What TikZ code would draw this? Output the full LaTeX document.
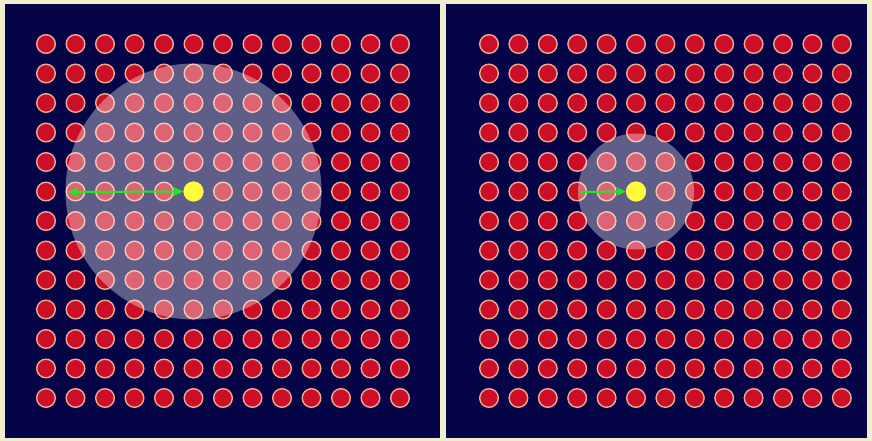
\documentclass[tikz,border=0pt]{standalone}
\usetikzlibrary{arrows.meta}
\definecolor{cream}{RGB}{242,238,205}
\definecolor{navy}{RGB}{4,4,70}
\definecolor{dotred}{RGB}{204,14,38}
\definecolor{dotrim}{RGB}{236,170,150}
\definecolor{ygold}{RGB}{255,250,60}
\definecolor{agreen}{RGB}{30,235,30}
\begin{document}
\begin{tikzpicture}[x=1pt,y=-1pt,
  dot/.style={circle, fill=dotred, draw=dotrim, line width=1.4pt, minimum size=18.6pt, inner sep=0pt},
  halo/.style={circle, fill=white, fill opacity=0.36, inner sep=0pt},
  ydot/.style={circle, fill=ygold, minimum size=20pt, inner sep=0pt},
  garrow/.style={draw=agreen, line width=2pt},
  ghead/.style={Stealth[length=11pt,width=10pt]}]
\useasboundingbox (0,0) rectangle (872,441);
\fill[cream] (0,0) rectangle (872,441);
\fill[navy] (5,4) rectangle (440,438);
\fill[navy] (446,4) rectangle (867,438);
\foreach \i in {0,...,12} \foreach \j in {0,...,12} {
  \node[dot] (L-\i-\j) at ({46+29.5*\i},{44+29.5*\j}) {};
  \node[dot] (R-\i-\j) at ({489+29.4*\i},{44+29.5*\j}) {};
}
\node[halo, minimum size=256pt] (Lhalo) at (L-5-5) {};
\node[halo, minimum size=116pt] (Rhalo) at (R-5-5) {};
\node[ydot] (Lyel) at (L-5-5) {};
\node[ydot] (Ryel) at (R-5-5) {};
\coordinate (Lend) at (68,192);
\coordinate (Rend) at (580,192);
\draw[garrow, {Stealth[length=11pt,width=10pt]}-{Stealth[length=11pt,width=10pt]}] (Lend) -- (Lyel.west);
\draw[garrow, -{Stealth[length=10pt,width=9pt]}] (Rend) -- (Ryel.west);
\end{tikzpicture}
\end{document}
